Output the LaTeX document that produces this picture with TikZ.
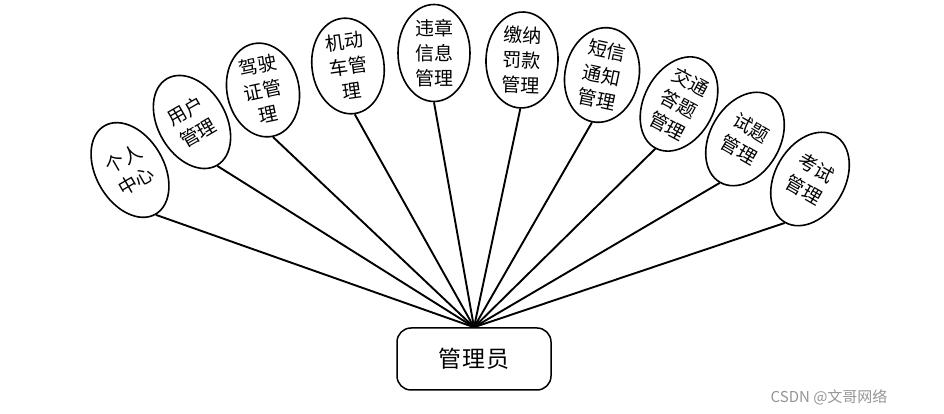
\documentclass[tikz,border=0pt]{standalone}
\usepackage{fontspec}
\setmainfont{Noto Sans CJK SC}
\usetikzlibrary{shapes.geometric}
\begin{document}
\begin{tikzpicture}[x=1pt,y=1pt,
  leaf/.style={ellipse, draw, line width=1.6pt, inner sep=0pt, align=center,
    font=\fontsize{19}{25}\selectfont},
  rootbox/.style={draw, rounded corners=14pt, line width=1.5pt, minimum width=154pt,
    minimum height=62pt, font=\fontsize{23}{26}\selectfont},
  link/.style={line width=1.9pt},
  mark text/.style={text=black!42, font=\fontsize{15}{18}\selectfont}]
\useasboundingbox (0,0) rectangle (944,414);
\node[rootbox] (root) at (474,55) {管\hspace{1pt}理\hspace{1pt}员};
\node[leaf, rotate=30, minimum width=68pt, minimum height=102pt] (e1) at (130,244) {个人\\中心};
\node[leaf, rotate=30, minimum width=68pt, minimum height=100pt] (e2) at (192,292) {用户\\管理};
\node[leaf, rotate=12, minimum width=72pt, minimum height=94pt] (e3) at (263,324) {驾驶\\证管\\理};
\node[leaf, rotate=8, minimum width=72pt, minimum height=96pt] (e4) at (348,348) {机动\\车管\\理};
\node[leaf, minimum width=72pt, minimum height=97pt] (e5) at (434,361) {违章\\信息\\管理};
\node[leaf, rotate=-2, minimum width=72pt, minimum height=96pt] (e6) at (522,354) {缴纳\\罚款\\管理};
\node[leaf, rotate=-12, minimum width=74pt, minimum height=94pt] (e7) at (602,339) {短信\\通知\\管理};
\node[leaf, rotate=-28, minimum width=70pt, minimum height=100pt] (e8) at (679,310) {交通\\答题\\管理};
\node[leaf, rotate=-30, minimum width=70pt, minimum height=100pt] (e9) at (745,275) {试题\\管理};
\node[leaf, rotate=-30, minimum width=70pt, minimum height=100pt] (e10) at (810,235) {考试\\管理};
\foreach \i in {1,...,10} \draw[link] (root.north) -- (e\i.south);
\node[mark text, anchor=east] (wm) at (891,17) {CSDN @文哥网络};
\end{tikzpicture}
\end{document}
